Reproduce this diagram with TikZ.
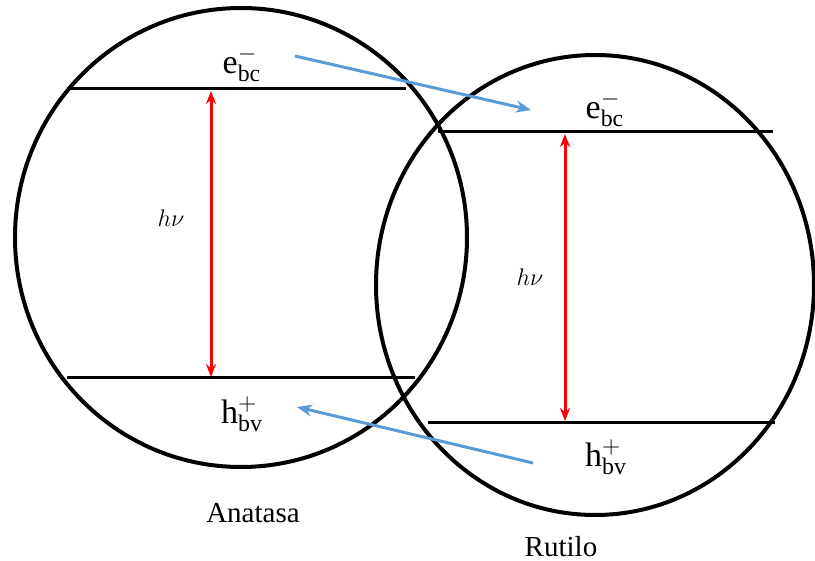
\documentclass[tikz,border=0pt]{standalone}
\usepackage{fontspec}
\setmainfont{Liberation Serif}
\usetikzlibrary{arrows.meta,shapes.geometric}
\definecolor{arrowblue}{RGB}{91,155,213}

\begin{document}
\begin{tikzpicture}[x=0.5pt,y=-0.5pt,
  phase/.style={draw,ellipse,line width=2pt,inner sep=0pt},
  level/.style={line width=1.5pt},
  gap/.style={{Stealth[length=6.5pt,width=5pt]}-{Stealth[length=6.5pt,width=5pt]},red,line width=1.5pt},
  transfer/.style={-{Stealth[length=7.5pt,width=6pt]},arrowblue,line width=1.5pt},
  carrier/.style={font=\fontsize{17}{19}\selectfont},
  energy/.style={font=\fontsize{12}{14}\selectfont},
  phasename/.style={font=\fontsize{14.5}{17}\selectfont}]
\useasboundingbox (0,0) rectangle (815,561);
% the two phases
\node[phase,minimum width=226pt,minimum height=229.5pt] (ana) at (241,237.5) {};
\node[phase,minimum width=219pt,minimum height=230pt] (rut) at (595,285) {};
% band edges
\coordinate (bcA1) at (67,89);  \coordinate (bcA2) at (406,89);
\coordinate (bvA1) at (67,378); \coordinate (bvA2) at (415,378);
\coordinate (bcR1) at (438,132); \coordinate (bcR2) at (773,132);
\coordinate (bvR1) at (428,423); \coordinate (bvR2) at (775,423);
\draw[level] (bcA1) -- (bcA2);
\draw[level] (bvA1) -- (bvA2);
\draw[level] (bcR1) -- (bcR2);
\draw[level] (bvR1) -- (bvR2);
% excitation
\coordinate (gA1) at (211,91);  \coordinate (gA2) at (211,377);
\coordinate (gR1) at (565,134); \coordinate (gR2) at (565,421);
\draw[gap] (gA1) -- (gA2);
\draw[gap] (gR1) -- (gR2);
\node[energy] (hvA) at (171,218) {$h\nu$};
\node[energy] (hvR) at (530,277) {$h\nu$};
% carriers
\node[carrier] (eA) at (242,64) {$\mathrm{e}^{-}_{\mathrm{bc}}$};
\node[carrier] (eR) at (605,109) {$\mathrm{e}^{-}_{\mathrm{bc}}$};
\node[carrier] (hA) at (242,414) {$\mathrm{h}^{+}_{\mathrm{bv}}$};
\node[carrier] (hR) at (606,457) {$\mathrm{h}^{+}_{\mathrm{bv}}$};
% charge transfer
\coordinate (tE1) at (295,56);  \coordinate (tE2) at (531,110);
\coordinate (tH1) at (533,463); \coordinate (tH2) at (297,407);
\draw[transfer] (tE1) -- (tE2);
\draw[transfer] (tH1) -- (tH2);
% names
\node[phasename] (ananame) at (253,513) {Anatasa};
\node[phasename] (rutname) at (561,547) {Rutilo};
\end{tikzpicture}
\end{document}
